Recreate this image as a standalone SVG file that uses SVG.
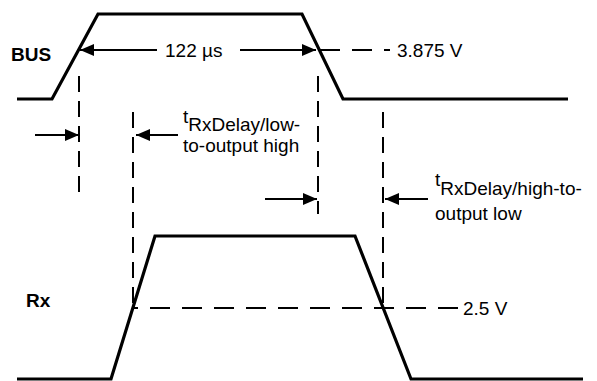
<svg xmlns="http://www.w3.org/2000/svg" width="597" height="381" viewBox="0 0 597 381">
  <defs>
    <marker id="ah" viewBox="0 0 14 12" refX="14" refY="6" markerWidth="14" markerHeight="12" markerUnits="userSpaceOnUse" orient="auto">
      <path d="M0,0 L14,6 L0,12 Z" fill="#000"/>
    </marker>
    <style>
      .wave { fill: none; stroke: #000; stroke-width: 3.2; stroke-linejoin: miter; }
      .dv { stroke: #000; stroke-width: 2; stroke-dasharray: 16 9; fill: none; }
      .dh { stroke: #000; stroke-width: 2; stroke-dasharray: 20 12; fill: none; }
      .arr { stroke: #000; stroke-width: 2; fill: none; marker-end: url(#ah); }
      text { font-family: "Liberation Sans", Arial, sans-serif; font-size: 19px; fill: #000; }
      .b { font-weight: bold; }
    </style>
  </defs>
  <rect width="597" height="381" fill="#fff"/>
  <g id="bus-wave">
    <polyline class="wave" points="17,99 52,99 98,14 302,14 343,99 568,99"/>
    <text class="b" x="11" y="61">BUS</text>
  </g>
  <g id="rx-wave">
    <polyline class="wave" points="17,379 111,379 155,236 355,236 411,379 583,379"/>
    <text class="b" x="26" y="307">Rx</text>
  </g>
  <g id="connectors">
    <line class="dv" x1="79" y1="76" x2="79" y2="192"/>
    <line class="dv" x1="133" y1="112" x2="133" y2="308"/>
    <line class="dv" x1="318" y1="76" x2="318" y2="214"/>
    <line class="dv" x1="383" y1="112" x2="383" y2="308"/>
    <line class="dh" x1="320" y1="50" x2="390" y2="50"/>
    <line class="dh" x1="458" y1="308" x2="133" y2="308"/>
    <line class="arr" x1="157" y1="50" x2="80" y2="50"/>
    <line class="arr" x1="240" y1="50" x2="316" y2="50"/>
    <line class="arr" x1="35" y1="135" x2="79" y2="135"/>
    <line class="arr" x1="178" y1="135" x2="136" y2="135"/>
    <line class="arr" x1="265" y1="199" x2="317" y2="199"/>
    <line class="arr" x1="428" y1="199" x2="385" y2="199"/>
  </g>
  <g id="labels">
    <text x="165" y="57">122 µs</text>
    <text x="397" y="57">3.875 V</text>
    <text x="463" y="315">2.5 V</text>
    <text x="183" y="123">t<tspan dy="8">RxDelay/low-</tspan></text>
    <text x="183" y="152">to-output high</text>
    <text x="435" y="186">t<tspan dy="9">RxDelay/high-to-</tspan></text>
    <text x="435" y="220">output low</text>
  </g>
</svg>
